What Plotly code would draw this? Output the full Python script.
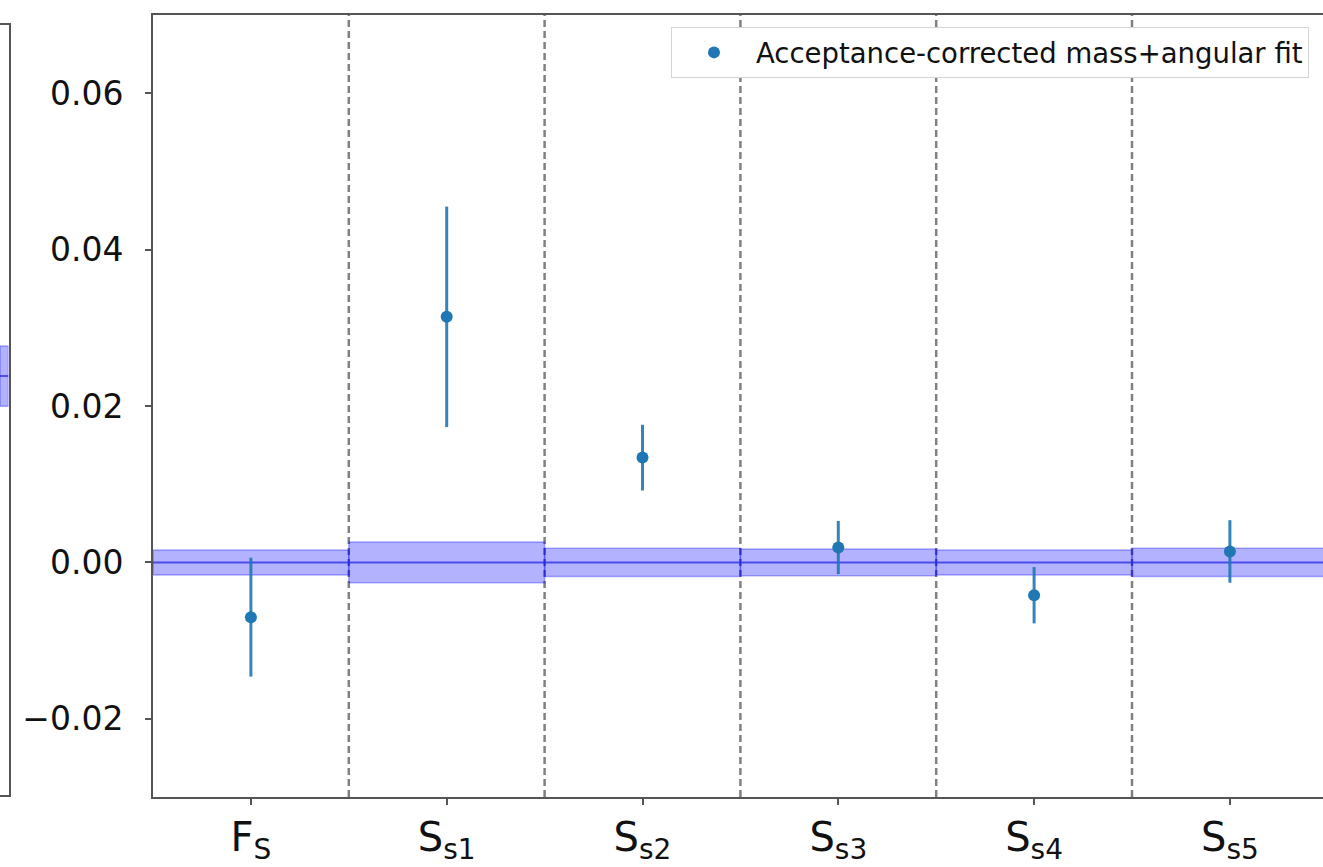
import plotly.graph_objects as go

# ---- data ----
categories = ["F<sub>S</sub>", "S<sub>s1</sub>", "S<sub>s2</sub>", "S<sub>s3</sub>", "S<sub>s4</sub>", "S<sub>s5</sub>"]
fit_values = [-0.0070, 0.0314, 0.0134, 0.0019, -0.0042, 0.0014]
fit_errors = [0.0076, 0.0141, 0.0042, 0.0034, 0.0036, 0.0040]
expected_center = [0.0, 0.0, 0.0, 0.0, 0.0, 0.0]
expected_halfwidth = [0.0016, 0.0026, 0.0018, 0.0017, 0.0016, 0.0018]
ytick_values = [-0.02, 0.0, 0.02, 0.04, 0.06]
legend_label = "Acceptance-corrected mass+angular fit"

# partially visible neighbouring panel (cropped at left edge)
left_center = [0.544]
left_halfwidth = [0.039]

BAND_FILL = "rgba(0,0,255,0.30)"
BAND_EDGE = "rgba(0,0,255,0.30)"
CENTER_LINE = "rgba(50,50,230,0.8)"
PT_COLOR = "#1f77b4"
FONT = "DejaVu Sans"

fig = go.Figure()
n = len(categories)
xs = list(range(n))

# expected bands
for i, (c, h) in enumerate(zip(expected_center, expected_halfwidth)):
    fig.add_trace(go.Scatter(
        x=[i - 0.5, i + 0.5, i + 0.5, i - 0.5, i - 0.5],
        y=[c - h, c - h, c + h, c + h, c - h],
        fill="toself", fillcolor=BAND_FILL, mode="lines",
        line=dict(color=BAND_EDGE, width=1.5),
        showlegend=False, hoverinfo="skip", xaxis="x", yaxis="y"))
    fig.add_trace(go.Scatter(
        x=[i - 0.5, i + 0.5], y=[c, c], mode="lines",
        line=dict(color=CENTER_LINE, width=2),
        showlegend=False, hoverinfo="skip", xaxis="x", yaxis="y"))

# fit points
fig.add_trace(go.Scatter(
    x=xs, y=fit_values, mode="markers", name=legend_label,
    marker=dict(color=PT_COLOR, size=12),
    error_y=dict(type="data", array=fit_errors, visible=True,
                 color="rgba(31,119,180,0.9)", thickness=3, width=0),
    xaxis="x", yaxis="y"))

# left cropped panel band
fig.add_trace(go.Scatter(
    x=[0, 1, 1, 0, 0],
    y=[left_center[0] - left_halfwidth[0]] * 2 + [left_center[0] + left_halfwidth[0]] * 2 + [left_center[0] - left_halfwidth[0]],
    fill="toself", fillcolor=BAND_FILL, mode="lines",
    line=dict(color=BAND_EDGE, width=1.5),
    showlegend=False, hoverinfo="skip", xaxis="x2", yaxis="y2"))
fig.add_trace(go.Scatter(
    x=[0, 1], y=[left_center[0]] * 2, mode="lines",
    line=dict(color=CENTER_LINE, width=2),
    showlegend=False, hoverinfo="skip", xaxis="x2", yaxis="y2"))

# dashed separators between categories
shapes = []
for i in range(n - 1):
    shapes.append(dict(type="line", xref="x", yref="paper",
                       x0=i + 0.5, x1=i + 0.5, y0=0, y1=1,
                       line=dict(color="rgba(115,115,115,0.9)", width=2.5, dash="7px,4px"),
                       layer="below"))

def fmt(v):
    s = f"{v:.2f}"
    return s.replace("-", "\u2212")

fig.update_layout(
    width=1323, height=867,
    margin=dict(l=0, r=0, t=15, b=70, autoexpand=False),
    paper_bgcolor="white", plot_bgcolor="white",
    font=dict(family=FONT, color="#111111"),
    shapes=shapes,
    xaxis=dict(domain=[153 / 1323, 1.0], range=[-0.5, -0.5 + 1170 / 195.8],
               tickmode="array", tickvals=xs, ticktext=categories,
               tickfont=dict(size=40, family=FONT, color="#111111"),
               ticks="outside", ticklen=6, tickwidth=1.5, tickcolor="#555",
               showline=True, linecolor="#555", linewidth=2, mirror=True,
               showgrid=False, zeroline=False, anchor="y", ticklabelstandoff=-2,
               automargin=False),
    yaxis=dict(domain=[0, 1], range=[-0.03, 0.07],
               tickmode="array", tickvals=ytick_values,
               ticktext=[fmt(v) for v in ytick_values],
               tickfont=dict(size=33, family=FONT, color="#111111"),
               ticks="outside", ticklen=6, tickwidth=1.5, tickcolor="#555",
               showline=True, linecolor="#555", linewidth=2, mirror=False,
               showgrid=False, zeroline=False, anchor="x", ticklabelstandoff=15,
               automargin=False),
    xaxis2=dict(domain=[0, 8.5 / 1323], range=[0, 1], showticklabels=False,
                ticks="", showline=True, linecolor="#555", linewidth=2, mirror=True,
                showgrid=False, zeroline=False, anchor="y2", automargin=False),
    yaxis2=dict(domain=[2 / 782, 772 / 782], range=[0, 1], showticklabels=False,
                ticks="", showline=True, linecolor="#555", linewidth=2, side="right",
                showgrid=False, zeroline=False, anchor="x2", automargin=False),
    legend=dict(x=1309 / 1323, xanchor="right", y=(797 - 27) / 782, yanchor="top",
                bgcolor="white", bordercolor="#d5d5d5", borderwidth=1,
                itemwidth=74,
                font=dict(size=27.5, family=FONT, color="#111111")),
    showlegend=True,
)

fig.write_html("out.html")
